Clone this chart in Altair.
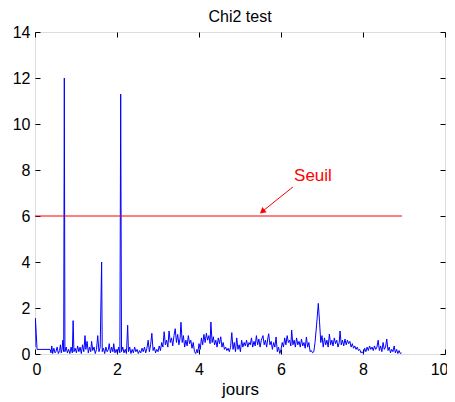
import altair as alt
import pandas as pd

# --- data ---
days = [0.00, 0.01, 0.03, 0.05, 0.37, 0.39, 0.41, 0.43, 0.46, 0.49, 0.51, 0.54, 0.57, 0.60, 0.62, 0.64, 0.66, 0.68, 0.70,
        0.715, 0.73, 0.76, 0.79, 0.82, 0.85, 0.88, 0.91, 0.93, 0.95, 0.98, 1.01, 1.04, 1.07, 1.10, 1.13, 1.16, 1.19,
        1.22, 1.24, 1.27, 1.30, 1.33, 1.36, 1.38, 1.41, 1.44, 1.47, 1.50, 1.53, 1.56, 1.59, 1.625, 1.64, 1.67, 1.70,
        1.73, 1.76, 1.79, 1.81, 1.84, 1.87, 1.90, 1.92, 1.95, 1.98, 2.01, 2.04, 2.07, 2.09, 2.11, 2.14, 2.17, 2.20,
        2.23, 2.26, 2.28, 2.31, 2.34, 2.37, 2.40, 2.43, 2.46, 2.49, 2.52, 2.55, 2.58, 2.61, 2.64, 2.67, 2.70, 2.73,
        2.76, 2.79, 2.82, 2.85, 2.88, 2.91, 2.94, 2.97, 3.00, 3.03, 3.06, 3.09, 3.12, 3.15, 3.18, 3.21, 3.24, 3.27,
        3.30, 3.33, 3.36, 3.39, 3.42, 3.45, 3.48, 3.51, 3.54, 3.56, 3.59, 3.62, 3.65, 3.68, 3.71, 3.74, 3.77, 3.80,
        3.83, 3.86, 3.89, 3.92, 3.95, 3.97, 4.00, 4.03, 4.06, 4.09, 4.12, 4.15, 4.18, 4.21, 4.24, 4.27, 4.29, 4.32,
        4.35, 4.38, 4.41, 4.44, 4.47, 4.50, 4.53, 4.56, 4.59, 4.62, 4.65, 4.68, 4.71, 4.74, 4.77, 4.80, 4.83, 4.86,
        4.89, 4.92, 4.95, 4.98, 5.01, 5.04, 5.07, 5.10, 5.13, 5.16, 5.19, 5.22, 5.25, 5.28, 5.31, 5.34, 5.37, 5.40,
        5.43, 5.46, 5.49, 5.52, 5.56, 5.59, 5.62, 5.65, 5.68, 5.70, 5.73, 5.76, 5.79, 5.82, 5.85, 5.88, 5.91, 5.94,
        5.97, 6.00, 6.03, 6.06, 6.09, 6.12, 6.15, 6.18, 6.21, 6.24, 6.26, 6.29, 6.32, 6.35, 6.38, 6.41, 6.44, 6.47,
        6.50, 6.53, 6.56, 6.59, 6.62, 6.65, 6.68, 6.71, 6.74, 6.77, 6.80, 6.83, 6.87, 6.91, 6.94, 6.97, 7.00, 7.03,
        7.06, 7.09, 7.12, 7.15, 7.18, 7.21, 7.24, 7.27, 7.30, 7.33, 7.36, 7.39, 7.42, 7.44, 7.47, 7.50, 7.53, 7.56,
        7.59, 7.62, 7.65, 7.68, 7.71, 7.74, 7.77, 7.80, 7.83, 7.86, 7.89, 7.92, 7.95, 7.98, 8.01, 8.04, 8.07, 8.10,
        8.13, 8.16, 8.19, 8.22, 8.25, 8.28, 8.31, 8.34, 8.37, 8.40, 8.43, 8.46, 8.49, 8.52, 8.55, 8.58, 8.61, 8.64,
        8.67, 8.70, 8.73, 8.76, 8.79, 8.82, 8.85, 8.88, 8.91, 8.94]
chi2 = [0.30, 1.55, 0.90, 0.20, 0.20, 0.05, 0.35, 0.02, 0.25, 0.05, 0.10, 0.30, 0.02, 0.15, 0.40, 0.05, 0.20, 0.60, 0.10,
        12.0, 0.10, 0.30, 0.05, 0.20, 0.02, 0.30, 0.05, 1.45, 0.10, 0.25, 0.05, 0.35, 0.10, 0.30, 0.02, 0.40, 0.10,
        0.80, 0.20, 0.55, 0.05, 0.30, 0.10, 0.55, 0.15, 0.30, 0.02, 0.20, 0.80, 0.10, 0.30, 4.00, 0.10, 0.25, 0.02,
        0.30, 0.10, 0.20, 0.45, 0.05, 0.30, 0.10, 0.45, 0.05, 0.20, 0.02, 0.30, 0.05, 11.3, 0.10, 0.30, 0.05, 0.20,
        0.02, 1.25, 0.10, 0.30, 0.02, 0.20, 0.05, 0.30, 0.10, 0.20, 0.02, 0.15, 0.05, 0.25, 0.10, 0.30, 0.05, 0.25,
        0.60, 0.10, 0.40, 0.90, 0.15, 0.30, 0.05, 0.20, 0.10, 0.35, 0.15, 0.50, 0.30, 0.97, 0.40, 0.60, 0.30, 1.00,
        0.50, 0.70, 0.35, 0.80, 1.10, 0.50, 0.85, 0.40, 0.70, 1.38, 0.50, 0.80, 0.30, 0.60, 0.35, 0.80, 0.45, 0.60,
        0.25, 0.50, 0.10, 0.02, 0.20, 0.05, 0.45, 0.20, 0.70, 0.40, 0.85, 0.50, 0.90, 0.60, 0.80, 0.45, 1.39, 0.50,
        0.75, 0.40, 0.60, 0.30, 0.70, 0.45, 0.75, 0.30, 0.50, 0.20, 0.30, 0.15, 0.25, 0.10, 0.30, 0.93, 0.20, 0.50,
        0.10, 0.70, 0.20, 0.40, 0.10, 0.60, 0.30, 0.50, 0.35, 0.60, 0.30, 0.50, 0.40, 0.70, 0.30, 0.55, 0.35, 0.80,
        0.40, 0.65, 0.30, 0.60, 0.80, 0.40, 0.60, 0.30, 0.70, 0.88, 0.40, 0.55, 0.20, 0.50, 0.30, 0.74, 0.10, 0.30,
        0.02, 0.20, 0.50, 0.30, 0.70, 0.40, 0.80, 0.50, 0.60, 0.35, 1.04, 0.40, 0.60, 0.30, 0.70, 0.40, 0.55, 0.30,
        0.65, 0.35, 0.50, 0.25, 0.74, 0.30, 0.50, 0.10, 0.15, 0.05, 0.10, 0.50, 1.30, 2.20, 1.40, 0.50, 0.80, 0.30,
        0.70, 0.40, 0.60, 0.30, 0.87, 0.40, 0.60, 0.35, 0.70, 0.45, 0.60, 0.30, 0.50, 1.00, 0.40, 0.60, 0.35, 0.65,
        0.40, 0.60, 0.45, 0.55, 0.30, 0.45, 0.25, 0.35, 0.20, 0.30, 0.15, 0.20, 0.05, 0.10, 0.02, 0.25, 0.10, 0.30,
        0.15, 0.35, 0.20, 0.30, 0.15, 0.35, 0.20, 0.30, 0.60, 0.15, 0.35, 0.10, 0.50, 0.20, 0.30, 0.65, 0.15, 0.30,
        0.05, 0.20, 0.10, 0.35, 0.05, 0.20, 0.02, 0.15, 0.02, 0.05]

threshold_value = [6.0]
threshold_start = [0.0]
threshold_end = [8.95]

label_text = ["Seuil"]
label_day = [6.78]
label_val = [7.74]
arrow_from_day = [6.29]
arrow_from_val = [7.26]
arrow_to_day = [5.56]
arrow_to_val = [6.22]

x_ticks = [0, 2, 4, 6, 8, 10]
y_ticks = [0, 2, 4, 6, 8, 10, 12, 14]

FONT = "Liberation Sans"

signal = pd.DataFrame({"day": days, "chi2": chi2})
thr = pd.DataFrame({"x0": threshold_start, "x1": threshold_end, "thr": threshold_value})
ann = pd.DataFrame({"t": label_text, "lx": label_day, "ly": label_val,
                    "ax": arrow_from_day, "ay": arrow_from_val,
                    "bx": arrow_to_day, "by": arrow_to_val})

xscale = alt.Scale(domain=[0, 10], nice=False, zero=False)
yscale = alt.Scale(domain=[0, 14], nice=False, zero=False)

common_axis = dict(grid=False, domain=False, ticks=True, tickSize=5, offset=-5,
                   tickColor="black", tickWidth=1, labelFont=FONT, labelFontSize=16,
                   labelColor="black", titleFont=FONT, titleFontSize=17,
                   titleColor="black", titleFontWeight="normal")

x_bottom = alt.Axis(orient="bottom", values=x_ticks, labelPadding=7, title="jours",
                    titlePadding=4, labelFlush=True, labelFlushOffset=3, **common_axis)
y_left = alt.Axis(orient="left", values=y_ticks, labelPadding=5, title=None,
                  labelFlush=False, **common_axis)
x_top = alt.Axis(orient="top", values=x_ticks, labels=False, title=None, **common_axis)
y_right = alt.Axis(orient="right", values=y_ticks, labels=False, title=None, **common_axis)

line = alt.Chart(signal).mark_line(color="#0000ff", strokeWidth=1, clip=True).encode(
    x=alt.X("day:Q", scale=xscale, axis=x_bottom),
    y=alt.Y("chi2:Q", scale=yscale, axis=y_left),
)

threshold = alt.Chart(thr).mark_rule(color="#ff0000", strokeWidth=1).encode(
    x=alt.X("x0:Q", scale=xscale, axis=x_top),
    x2="x1:Q",
    y=alt.Y("thr:Q", scale=yscale, axis=y_right),
)

label = alt.Chart(ann).mark_text(color="#ff0000", font=FONT, fontSize=17,
                                  align="center", baseline="middle").encode(
    x=alt.X("lx:Q", scale=xscale, axis=None),
    y=alt.Y("ly:Q", scale=yscale, axis=None),
    text="t:N",
)

arrow_shaft = alt.Chart(ann).mark_rule(color="#ff0000", strokeWidth=1).encode(
    x=alt.X("ax:Q", scale=xscale, axis=None),
    y=alt.Y("ay:Q", scale=yscale, axis=None),
    x2="bx:Q",
    y2="by:Q",
)

arrow_head = alt.Chart(ann).mark_point(shape="triangle", filled=True, color="#ff0000",
                                       size=45, angle=231, opacity=1).encode(
    x=alt.X("bx:Q", scale=xscale, axis=None),
    y=alt.Y("by:Q", scale=yscale, axis=None),
)

chart = alt.layer(line, threshold, arrow_shaft, arrow_head, label).resolve_axis(
    x="independent", y="independent"
).properties(
    width=410,
    height=322,
    autosize=alt.AutoSizeParams(type="none"),
    padding={"left": 27, "top": 24, "right": 2, "bottom": 48},
    title=alt.Title("Chi2 test", font=FONT, fontSize=16, fontWeight="normal",
                    color="black", offset=-14, baseline="alphabetic"),
).configure_view(
    stroke="black", strokeWidth=1
).configure(background="white")

chart.save("out.html", embed_options={"renderer": "svg", "actions": False})
